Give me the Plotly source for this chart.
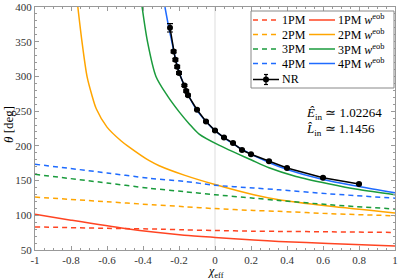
import plotly.graph_objects as go

# ---- data ----
pm1_x = [-1, -0.6, -0.3, -0.171, 0, 0.215, 0.354, 0.63, 1]
pm1_y = [83.3, 81.2, 80.0, 79.0, 78.1, 77.1, 76.8, 76.2, 75.3]
pm2_x = [-1, -0.6, -0.35, -0.171, 0, 0.215, 0.354, 0.63, 1]
pm2_y = [126.2, 119.5, 115.2, 112.4, 109.6, 107.0, 105.7, 102.4, 99.3]
pm3_x = [-1, -0.6, -0.365, -0.171, 0, 0.215, 0.354, 0.63, 1]
pm3_y = [159.0, 146.5, 139.0, 134.0, 129.6, 124.7, 121.4, 115.3, 109.0]
pm4_x = [-1, -0.6, -0.365, -0.171, 0, 0.215, 0.354, 0.63, 1]
pm4_y = [173.5, 161.0, 153.3, 148.8, 143.3, 139.3, 136.7, 131.0, 124.7]

eob1_x = [-1, -0.8, -0.5, -0.33, -0.171, 0, 0.215, 0.354, 0.63, 1]
eob1_y = [101.4, 93.0, 81.0, 75.5, 71.4, 68.1, 64.3, 62.4, 59.4, 55.7]
eob2_x = [-0.762, -0.739, -0.711, -0.685, -0.659, -0.6, -0.521, -0.486, -0.365, -0.31, -0.171, 0, 0.215, 0.354, 0.63, 1]
eob2_y = [400, 350, 300, 274, 253, 227, 207, 200, 178.6, 171.4, 157.9, 144.3, 129.6, 122.4, 113.3, 103.3]
eob3_x = [-0.405, -0.375, -0.328, -0.264, -0.199, -0.144, -0.088, 0.022, 0.2, 0.3, 0.45, 0.63, 0.8, 1]
eob3_y = [400, 350, 300, 272, 249, 232, 217, 201, 180, 168.5, 156, 145.5, 137, 129.5]
eob4_x = [-0.278, -0.26, -0.24, -0.22, -0.2, -0.175, -0.15, -0.1, -0.05, 0, 0.1, 0.2, 0.3, 0.4, 0.6, 0.8, 1]
eob4_y = [400, 375, 350, 326, 307, 289, 274, 251, 235, 222, 203, 188, 176, 166, 151.5, 141.5, 132.5]

nr_x = [-0.25, -0.23, -0.22, -0.21, -0.2, -0.17, -0.16, -0.15, -0.1, -0.05, 0, 0.05, 0.1, 0.15, 0.2, 0.3, 0.4, 0.6, 0.8]
nr_y = [370, 336, 324, 314, 305, 287, 279, 273, 252, 235, 222, 212, 204, 194, 188, 178, 168, 154, 145]
nr_err = [6, 2, 2, 2, 2, 1.5, 1.5, 1.5, 1, 1, 1, 1, 1, 1, 1, 1, 1, 1, 1]

x_ticks = [-1, -0.8, -0.6, -0.4, -0.2, 0, 0.2, 0.4, 0.6, 0.8, 1]
x_ticktext = ["-1", "-0.8", "-0.6", "-0.4", "-0.2", "0", "0.2", "0.4", "0.6", "0.8", "1"]
y_ticks = [50, 100, 150, 200, 250, 300, 350, 400]

RED = "#ff4422"
ORANGE = "#ffa500"
GREEN = "#1a9b3c"
BLUE = "#1f6bff"
FONT = "Liberation Serif"
DASH = "5px,4px"

# layout geometry (pixels)
W, H = 399, 280
ML, MR, MT, MB = 35, 4, 7, 30
PW, PH = W - ML - MR, H - MT - MB


def px(xp):
    return (xp - ML) / PW


def py(yp):
    return 1 - (yp - MT) / PH


fig = go.Figure()

series = [
    ("1PM", pm1_x, pm1_y, RED, DASH),
    ("1PM <i>w</i><sup>eob</sup>", eob1_x, eob1_y, RED, "solid"),
    ("2PM", pm2_x, pm2_y, ORANGE, DASH),
    ("2PM <i>w</i><sup>eob</sup>", eob2_x, eob2_y, ORANGE, "solid"),
    ("3PM", pm3_x, pm3_y, GREEN, DASH),
    ("3PM <i>w</i><sup>eob</sup>", eob3_x, eob3_y, GREEN, "solid"),
    ("4PM", pm4_x, pm4_y, BLUE, DASH),
    ("4PM <i>w</i><sup>eob</sup>", eob4_x, eob4_y, BLUE, "solid"),
]
for name, xs, ys, col, d in series:
    fig.add_trace(go.Scatter(x=xs, y=ys, mode="lines", name=name, showlegend=False,
                             line=dict(color=col, width=1.5, dash=d, shape="spline", smoothing=0.8)))

fig.add_trace(go.Scatter(x=nr_x, y=nr_y, mode="lines+markers", name="NR", showlegend=False,
                         line=dict(color="black", width=1.5),
                         marker=dict(color="black", size=6),
                         error_y=dict(type="data", array=nr_err, color="black", thickness=1.2, width=3)))

fig.add_vline(x=0, line=dict(color="#dddddd", width=1), layer="below")

# ---- hand-built legend (two columns) ----
fig.add_shape(type="rect", xref="paper", yref="paper", x0=px(251), x1=px(394), y0=py(88), y1=py(11),
              line=dict(color="#888888", width=1), fillcolor="white", layer="above")
rows_y = [20, 34.5, 49, 63.5]
for i, (name, xs, ys, col, d) in enumerate(series):
    r = i // 2
    c = i % 2
    x0 = 253 if c == 0 else 309
    fig.add_shape(type="line", xref="paper", yref="paper", x0=px(x0), x1=px(x0 + 26),
                  y0=py(rows_y[r]), y1=py(rows_y[r]), line=dict(color=col, width=1.5, dash=d), layer="above")
    fig.add_annotation(x=px(x0 + 27), y=py(rows_y[r]), xref="paper", yref="paper", xanchor="left",
                       yanchor="middle", text=name, showarrow=False,
                       font=dict(family=FONT, size=12, color="black"))
# NR entry
ny = 79.5
fig.add_shape(type="line", xref="paper", yref="paper", x0=px(253), x1=px(279), y0=py(ny), y1=py(ny),
              line=dict(color="black", width=1.5), layer="above")
fig.add_shape(type="line", xref="paper", yref="paper", x0=px(266), x1=px(266), y0=py(ny - 5), y1=py(ny + 5),
              line=dict(color="black", width=1.2), layer="above")
for yy in (ny - 5, ny + 5):
    fig.add_shape(type="line", xref="paper", yref="paper", x0=px(264), x1=px(268), y0=py(yy), y1=py(yy),
                  line=dict(color="black", width=1.2), layer="above")
fig.add_shape(type="circle", xref="paper", yref="paper", x0=px(263), x1=px(269), y0=py(ny + 3), y1=py(ny - 3),
              line=dict(color="black", width=0), fillcolor="black", layer="above")
fig.add_annotation(x=px(280), y=py(ny), xref="paper", yref="paper", xanchor="left", yanchor="middle",
                   text="NR", showarrow=False, font=dict(family=FONT, size=12, color="black"))

# energy / angular momentum labels
fig.add_annotation(x=px(304), y=py(113), xref="paper", yref="paper", xanchor="left", yanchor="middle",
                   text="<i>Ê</i><sub>in</sub> ≃ 1.02264", showarrow=False,
                   font=dict(family=FONT, size=13, color="black"))
fig.add_annotation(x=px(304), y=py(129), xref="paper", yref="paper", xanchor="left", yanchor="middle",
                   text="<i>L̂</i><sub>in</sub> ≃ 1.1456", showarrow=False,
                   font=dict(family=FONT, size=13, color="black"))

# axis titles
fig.add_annotation(x=px(216), y=py(272), xref="paper", yref="paper", xanchor="center", yanchor="middle",
                   text="<i>χ</i><sub>eff</sub>", showarrow=False,
                   font=dict(family=FONT, size=12, color="black"))
fig.add_annotation(x=px(8), y=py(125), xref="paper", yref="paper", xanchor="center", yanchor="middle",
                   text="<i>θ</i> [deg]", showarrow=False, textangle=-90,
                   font=dict(family=FONT, size=13, color="black"))

axis_common = dict(showgrid=False, zeroline=False, showline=True, linecolor="#999999", linewidth=1,
                   mirror="allticks", ticks="inside", ticklen=4, tickcolor="#999999", automargin=False,
                   tickfont=dict(family=FONT, size=11, color="#333333"))

fig.update_xaxes(range=[-1, 1], tickvals=x_ticks, ticktext=x_ticktext,
                 minor=dict(ticks="inside", ticklen=2, dtick=0.05, tickcolor="#999999"),
                 **axis_common)
fig.update_yaxes(range=[50, 400], tickvals=y_ticks,
                 minor=dict(ticks="inside", ticklen=2, dtick=10, tickcolor="#999999"),
                 **axis_common)

fig.update_layout(
    width=W, height=H,
    margin=dict(l=ML, r=MR, t=MT, b=MB),
    paper_bgcolor="white", plot_bgcolor="white",
    showlegend=False,
)

fig.write_html("out.html", config={"displayModeBar": False},
               post_script="document.body.style.margin='0px';document.body.style.overflow='hidden';")
